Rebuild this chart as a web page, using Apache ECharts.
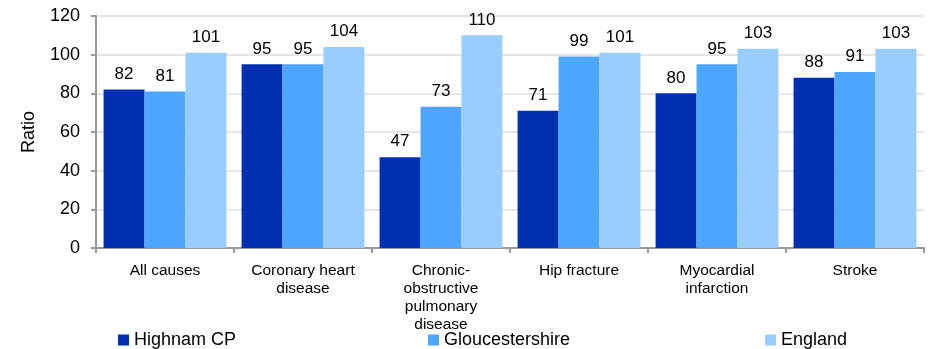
<!DOCTYPE html>
<html>
<head>
<meta charset="utf-8">
<script src="https://cdn.jsdelivr.net/npm/echarts@6/dist/echarts.min.js"></script>
<style>
  html, body { margin: 0; padding: 0; background: #ffffff; }
  #chart { width: 928px; height: 349px; }
</style>
</head>
<body>
<div id="chart"></div>
<script>
// Mortality ratio by cause, local vs county vs national
var categories = ['All causes', 'Coronary heart\ndisease', 'Chronic-\nobstructive\npulmonary\ndisease', 'Hip fracture', 'Myocardial\ninfarction', 'Stroke'];
var seriesNames = ['Highnam CP', 'Gloucestershire', 'England'];
var highnam = [82, 95, 47, 71, 80, 88];
var gloucestershire = [81, 95, 73, 99, 95, 91];
var england = [101, 104, 110, 101, 103, 103];
var yTicks = [0, 20, 40, 60, 80, 100, 120];

var colors = ['#0030B2', '#4DA6FF', '#99CCFF'];
var font = 'Liberation Sans, Arial, sans-serif';

function barSeries(name, values, color) {
  return {
    name: name,
    type: 'bar',
    data: values,
    barGap: '0%',
    barCategoryGap: '11%',
    itemStyle: { color: color },
    label: {
      show: true,
      position: 'top',
      distance: 7,
      color: '#000',
      fontFamily: font,
      fontSize: 17
    }
  };
}

function legendAt(name, left) {
  return {
    data: [name],
    left: left,
    top: 326,
    icon: 'rect',
    itemWidth: 11,
    itemHeight: 11,
    itemGap: 6,
    textStyle: { fontFamily: font, fontSize: 18, color: '#000' }
  };
}

var chart = echarts.init(document.getElementById('chart'), null, { renderer: 'canvas' });
chart.setOption({
  animation: false,
  grid: { left: 96, right: 4, top: 16, bottom: 101, containLabel: false },
  legend: [
    legendAt(seriesNames[0], 113),
    legendAt(seriesNames[1], 423),
    legendAt(seriesNames[2], 760)
  ],
  xAxis: {
    type: 'category',
    data: categories,
    axisLine: { lineStyle: { color: '#999', width: 2 } },
    axisTick: { show: true, alignWithLabel: false, length: 5, lineStyle: { color: '#999', width: 2 } },
    axisLabel: {
      interval: 0,
      margin: 14,
      color: '#000',
      fontFamily: font,
      fontSize: 15.5,
      lineHeight: 18
    }
  },
  yAxis: {
    type: 'value',
    min: yTicks[0],
    max: yTicks[yTicks.length - 1],
    interval: yTicks[1] - yTicks[0],
    name: 'Ratio',
    nameLocation: 'middle',
    nameGap: 58,
    nameRotate: 90,
    nameTextStyle: { color: '#000', fontFamily: font, fontSize: 18 },
    axisLine: { show: true, lineStyle: { color: '#999', width: 2 } },
    axisTick: { show: true, inside: false, length: 5, lineStyle: { color: '#999', width: 2 } },
    axisLabel: { color: '#000', fontFamily: font, fontSize: 18, margin: 16 },
    splitLine: { show: true, lineStyle: { color: '#E6E6E6', width: 2 } }
  },
  series: [
    barSeries(seriesNames[0], highnam, colors[0]),
    barSeries(seriesNames[1], gloucestershire, colors[1]),
    barSeries(seriesNames[2], england, colors[2])
  ]
});
</script>
</body>
</html>
